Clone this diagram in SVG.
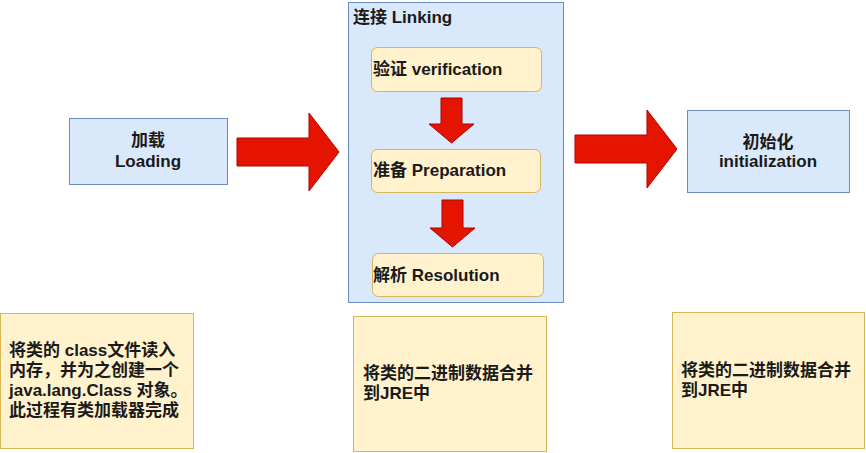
<svg xmlns="http://www.w3.org/2000/svg" width="866" height="453" viewBox="0 0 866 453">
<style>
.blue{fill:#dae8fc;stroke:#6c8ebf;stroke-width:1}
.yel{fill:#fff2cc;stroke:#d6b656;stroke-width:1}
.arr{fill:#e51400;stroke:#b20000;stroke-width:1}
text{font-family:"Liberation Sans","Noto Sans CJK SC",sans-serif;font-size:17px;font-weight:bold;fill:#1a1a1a}
.c{text-anchor:middle}
</style>
<rect width="866" height="453" fill="#ffffff"/>
<g id="loading"><rect class="blue" x="69.5" y="118.5" width="158" height="66"/><text class="c" x="148" y="146">加载</text><text class="c" x="148" y="167">Loading</text></g>
<g id="linking"><rect class="blue" x="348.5" y="2.5" width="215" height="300"/><text x="353" y="23">连接 Linking</text></g>
<g id="verification"><rect class="yel" x="371.5" y="47.5" width="170" height="44" rx="6"/><text x="373" y="75">验证 verification</text></g>
<g id="preparation"><rect class="yel" x="371.5" y="149.5" width="169" height="43" rx="6"/><text x="373" y="176">准备 Preparation</text></g>
<g id="resolution"><rect class="yel" x="372.5" y="253.5" width="171" height="43" rx="6"/><text x="373" y="281">解析 Resolution</text></g>
<g id="initialization"><rect class="blue" x="687.5" y="110.5" width="162" height="82"/><text class="c" x="768" y="148">初始化</text><text class="c" x="768" y="167">initialization</text></g>
<g id="note1"><rect class="yel" x="0.5" y="313.5" width="193" height="135"/><text x="9" y="356">将类的 class文件读入</text><text x="9" y="376">内存，并为之创建一个</text><text x="9" y="396">java.lang.Class 对象。</text><text x="9" y="416">此过程有类加载器完成</text></g>
<g id="note2"><rect class="yel" x="353.5" y="316.5" width="193" height="135"/><text x="363" y="379">将类的二进制数据合并</text><text x="363" y="399">到JRE中</text></g>
<g id="note3"><rect class="yel" x="672.5" y="312.5" width="192" height="136"/><text x="681" y="376">将类的二进制数据合并</text><text x="681" y="396">到JRE中</text></g>
<g id="connectors">
<path class="arr" d="M237,138 H309 V113 L339,152 L309,191 V166 H237 Z"/>
<path class="arr" d="M575,135 H647 V110 L677,149 L647,188 V163 H575 Z"/>
<path class="arr" d="M441,98 H462 V124 H474 L451.5,143 L429,124 H441 Z"/>
<path class="arr" d="M442,200 H463 V228 H475 L452.5,247 L430,228 H442 Z"/>
</g>
</svg>
